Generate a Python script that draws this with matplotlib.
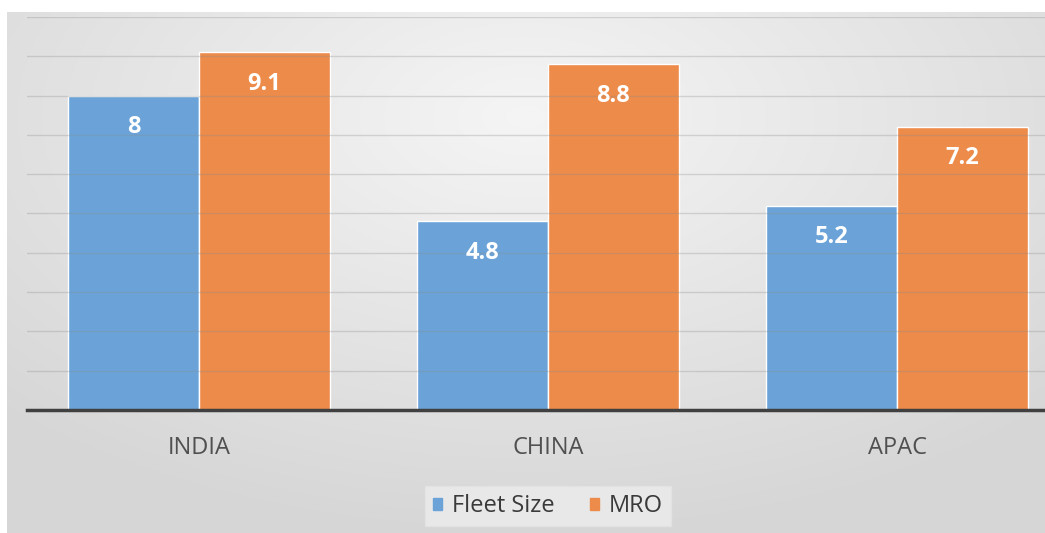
import numpy as np
import matplotlib.pyplot as plt
from matplotlib.patches import Patch

plt.rcParams["font.family"] = ["Open Sans", "DejaVu Sans"]

regions = ["INDIA", "CHINA", "APAC"]
fleet_size = [8, 4.8, 5.2]
mro = [9.1, 8.8, 7.2]
series_names = ["Fleet Size", "MRO"]

blue = "#6ba3d8"
orange = "#ed8b4a"
W, H = 1045, 533

fig = plt.figure(figsize=(W / 100, H / 100), dpi=100)
fig.patch.set_facecolor("white")

# chart area background: soft radial grey gradient
bg = fig.add_axes([7 / W, 0, 1 - 7 / W, (H - 12) / H])
yy, xx = np.mgrid[-1:1:200j, -1:1:400j]
r = np.sqrt((xx * 0.9) ** 2 + ((yy + 0.6) * 0.8) ** 2)
shade = 0.96 - 0.12 * np.clip(r, 0, 1.3) / 1.3
bg.imshow(np.dstack([shade] * 3), aspect="auto", extent=(0, 1, 0, 1))
bg.axis("off")

ax = fig.add_axes([27 / W, (H - 410) / H, (W - 27) / W, (410 - 17) / H])
ax.patch.set_alpha(0)

x = np.arange(len(regions))
width = 0.375
b1 = ax.bar(x - width / 2, fleet_size, width, color=blue, edgecolor="white",
            linewidth=1, zorder=2)
b2 = ax.bar(x + width / 2, mro, width, color=orange, edgecolor="white",
            linewidth=1, zorder=2)

for bars, vals in [(b1, fleet_size), (b2, mro)]:
    for bar, v in zip(bars, vals):
        ax.text(bar.get_x() + bar.get_width() / 2, v - 0.8, f"{v:g}",
                ha="center", va="center", color="white", fontsize=17,
                fontweight="bold", zorder=4)

ax.set_ylim(0, 10)
ax.set_xlim(-0.493, 2.424)
for g in range(1, 11):
    ax.axhline(g, color="#8c8c8c", lw=1, alpha=0.3, zorder=3)

for s in ["top", "right", "left"]:
    ax.spines[s].set_visible(False)
ax.spines["bottom"].set_color("#404040")
ax.spines["bottom"].set_linewidth(2.5)
ax.spines["bottom"].set_zorder(5)
ax.set_yticks([])
ax.set_xticks(x)
ax.set_xticklabels(regions, fontsize=17, color="#505050")
ax.tick_params(axis="x", length=0, pad=19)

handles = [Patch(color=blue), Patch(color=orange)]
leg = fig.legend(handles, series_names, loc="center",
                 bbox_to_anchor=(548 / W, 1 - 506 / H), ncol=2, frameon=True,
                 fontsize=17, handlelength=0.4, handleheight=0.4,
                 handletextpad=0.4, columnspacing=1.5, borderpad=0.35,
                 borderaxespad=0, fancybox=False)
leg.get_frame().set_facecolor("#ededed")
leg.get_frame().set_edgecolor("#e4e4e4")
for t in leg.get_texts():
    t.set_color("#3a3a3a")

fig.savefig("out.png", dpi=100)
